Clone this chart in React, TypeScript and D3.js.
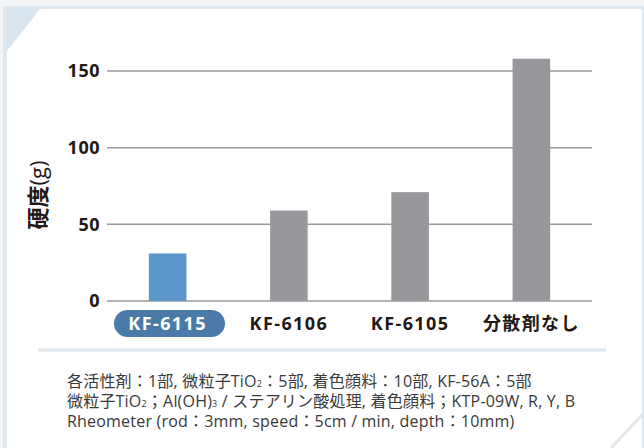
import React from 'react';
import * as d3 from 'd3';

const categories = ['KF-6115', 'KF-6106', 'KF-6105', '分散剤なし'];
const hardness = [31, 59, 71, 158];
const yTicks = [0, 50, 100, 150];
const yTitle = '硬度';
const yUnit = '(g)';

const W = 644, H = 448;
const FONT = '"Open Sans", "Noto Sans CJK JP", sans-serif';

export default function App() {
  const x = d3.scaleBand<string>().domain(categories).range([107, 592]).paddingInner(0.69).paddingOuter(0.345);
  const y = d3.scaleLinear().domain([0, 150]).range([301, 71]);

  return (
    <svg width={W} height={H} style={{ position: 'absolute', left: 0, top: 0 }} fontFamily={FONT}>
      {/* page + card */}
      <rect width={W} height={H} fill="#f3f4f5" />
      <rect x={3} y={6} width={641} height={442} fill="#dfe8ee" />
      <rect x={7} y={9} width={635} height={439} fill="#ffffff" />
      <path d="M7,9 L40,9 L7,51 Z" fill="#dae5ed" />
      <path d="M644,413 L611,448" stroke="#e1e9ef" strokeWidth={3} />

      {/* grid */}
      {yTicks.map(t => (
        <g key={t}>
          <line x1={107} x2={592} y1={y(t)} y2={y(t)} stroke="#9a9a9a" strokeWidth={1.5} />
          <text x={100} y={y(t)} dy="0.36em" textAnchor="end" fontSize={18} fontWeight={700}
            letterSpacing={0.5} fill="#231815">{t}</text>
        </g>
      ))}

      {/* bars */}
      {categories.map((c, i) => (
        <rect key={c} x={x(c)} y={y(hardness[i])} width={x.bandwidth()} height={y(0) - y(hardness[i])}
          fill={i === 0 ? '#5b97cb' : '#98979c'} />
      ))}

      {/* category labels */}
      <rect x={114} y={310} width={111} height={27} rx={13.5} fill="#4a7aa8" />
      {categories.map((c, i) => (
        <text key={c} x={(x(c) as number) + x.bandwidth() / 2} y={324} dy="0.36em" textAnchor="middle"
          fontSize={18} fontWeight={700} letterSpacing={1.4} fill={i === 0 ? '#ffffff' : '#231815'}>{c}</text>
      ))}

      {/* y title */}
      <text transform="translate(38,195) rotate(-90)" textAnchor="middle" dy="0.36em" fontSize={22} fill="#231815">
        <tspan fontWeight={700}>{yTitle}</tspan><tspan fontWeight={400}>{yUnit}</tspan>
      </text>

      {/* divider */}
      <line x1={38} x2={606} y1={350} y2={350} stroke="#dfe8ef" strokeWidth={3} />

      {/* notes */}
      <g fontSize={16} fill="#3a3a3a" letterSpacing={0.2}>
        <text x={67} y={387}>
          各活性剤：1部, 微粒子TiO<tspan fontSize={9}>2</tspan>：5部, 着色顔料：10部, KF-56A：5部
        </text>
        <text x={67} y={407}>
          微粒子TiO<tspan fontSize={9}>2</tspan>；Al(OH)<tspan fontSize={9}>3</tspan> / ステアリン酸処理, 着色顔料；KTP-09W, R, Y, B
        </text>
        <text x={67} y={427}>
          Rheometer (rod：3mm, speed：5cm / min, depth：10mm)
        </text>
      </g>
    </svg>
  );
}
